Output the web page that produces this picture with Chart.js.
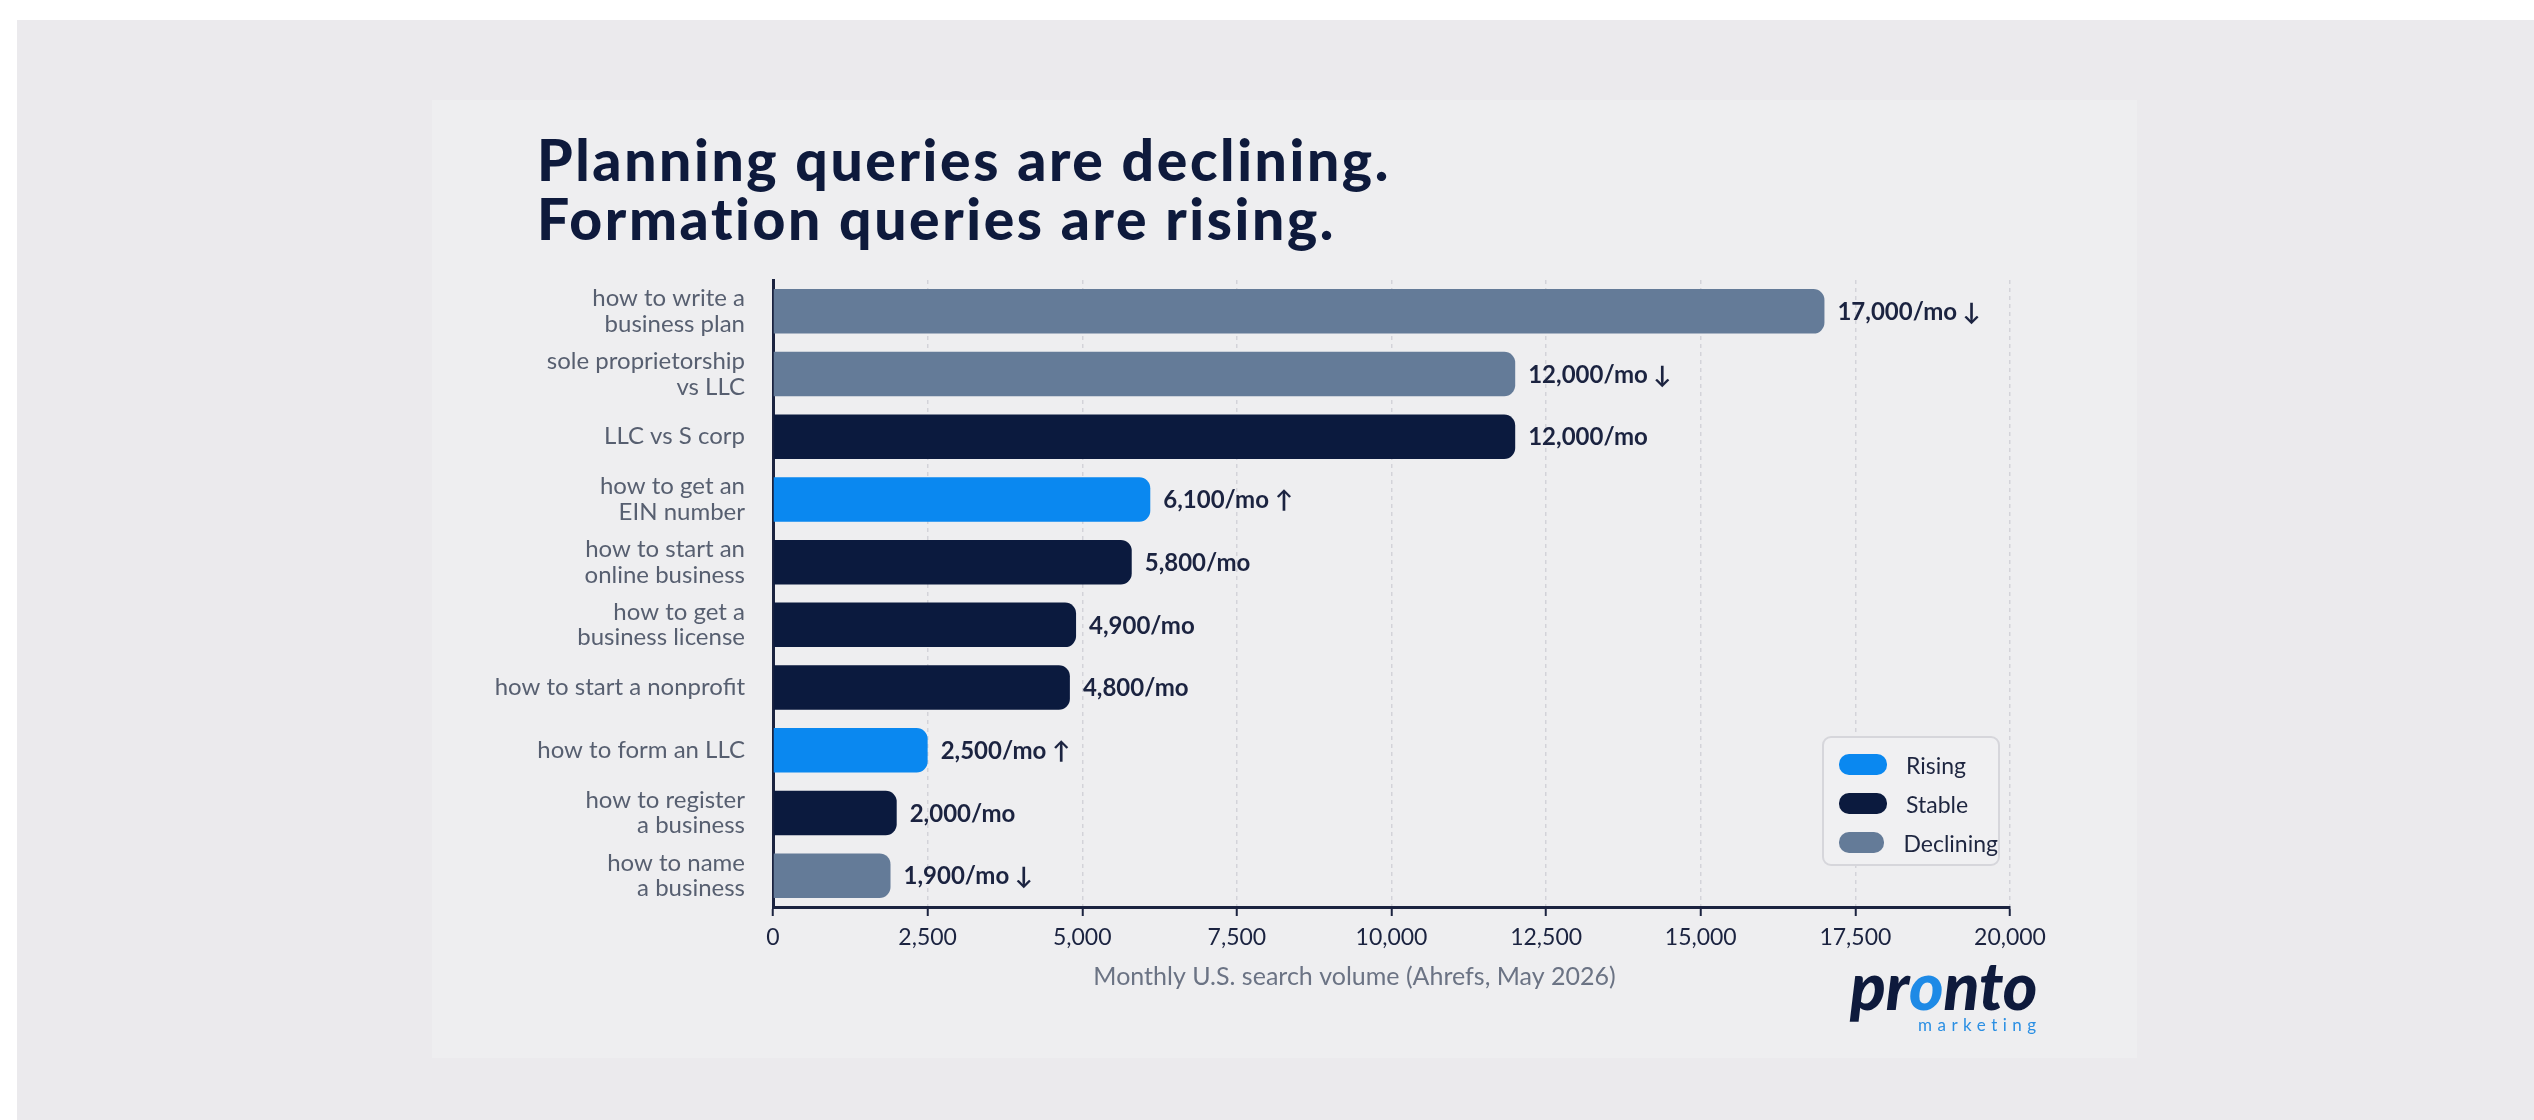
<!DOCTYPE html>
<html>
<head>
<meta charset="utf-8">
<script src="https://cdn.jsdelivr.net/npm/chart.js@4.4.1/dist/chart.umd.min.js"></script>
<style>
  body { margin: 0; background: #ffffff; width: 2534px; height: 1120px; overflow: hidden; font-family: Lato, "Open Sans", sans-serif; }
  .backdrop { position: absolute; left: 17px; top: 20px; right: 0; bottom: 0; background: #ebeaed; }
  .panel { position: absolute; left: 432px; top: 100px; width: 1705px; height: 958px; background: #eeeef0; }
  .title { position: absolute; left: 537px; top: 130px; font-size: 57px; line-height: 59px; font-weight: 900; color: #0e1a3c; letter-spacing: 2.6px; }
  .chart-box { position: absolute; left: 430px; top: 260px; width: 1710px; height: 740px; }
  .legend { position: absolute; left: 1822px; top: 736px; width: 178px; height: 130px; border: 2px solid #d6d6db; border-radius: 9px; background: #f0f0f2; box-sizing: border-box; padding-top: 7px; }
  .legend-row { display: flex; align-items: center; height: 39px; padding-left: 15px; }
  .legend-swatch { width: 48px; height: 21px; border-radius: 10px; margin-right: 19px; }
  .legend-text { font-size: 23px; color: #1e2640; }
  .logo { position: absolute; left: 1850px; top: 954px; }
  .logo .word { font-size: 66px; font-weight: 900; font-style: italic; color: #0e1a3c; letter-spacing: 0px; line-height: 62px; }
  .logo .word span { color: #1e8ae6; }
  .logo .sub { position: absolute; left: 68px; top: 60px; font-size: 17px; letter-spacing: 5.5px; color: #2b8fe3; white-space: nowrap; }
</style>
</head>
<body>
<div class="backdrop"></div>
<div class="panel"></div>
<div class="title">Planning queries are declining.<br>Formation queries are rising.</div>
<div class="chart-box"><canvas id="chart"></canvas></div>
<div class="legend" id="legend"></div>
<div class="logo"><div class="word">pr<span>o</span>nto</div><div class="sub">marketing</div></div>

<script>
// Chart data
const queries = [
    ['how to write a', 'business plan'],
    ['sole proprietorship', 'vs LLC'],
    'LLC vs S corp',
    ['how to get an', 'EIN number'],
    ['how to start an', 'online business'],
    ['how to get a', 'business license'],
    'how to start a nonprofit',
    'how to form an LLC',
    ['how to register', 'a business'],
    ['how to name', 'a business']
];
const volumes = [17000, 12000, 12000, 6100, 5800, 4900, 4800, 2500, 2000, 1900];
const trends = ['Declining', 'Declining', 'Stable', 'Rising', 'Stable', 'Stable', 'Stable', 'Rising', 'Stable', 'Declining'];
const trendNames = ['Rising', 'Stable', 'Declining'];
const trendColors = ['#0a88f0', '#0b1a3e', '#647b98'];
const trendArrows = ['↑', '', '↓'];
const axisMax = 20000;
const axisStep = 2500;
const axisTitle = 'Monthly U.S. search volume (Ahrefs, May 2026)';

const navy = '#1b2340';

function colorFor(trend) {
    return trendColors[trendNames.indexOf(trend)];
}

function labelFor(i) {
    const arrow = trendArrows[trendNames.indexOf(trends[i])];
    return volumes[i].toLocaleString('en-US') + '/mo' + (arrow ? ' ' + arrow : '');
}

// Value labels at the end of each bar, plus the axis title (a bit left of centre, as in the original)
const valueLabels = {
    id: 'valueLabels',
    afterDatasetsDraw(chart) {
        const ctx = chart.ctx;
        const meta = chart.getDatasetMeta(0);
        const area = chart.chartArea;
        ctx.save();
        ctx.font = 'bold 24px Lato, "Open Sans", sans-serif';
        ctx.fillStyle = navy;
        ctx.textAlign = 'left';
        ctx.textBaseline = 'middle';
        meta.data.forEach((bar, i) => {
            ctx.fillText(labelFor(i), bar.x + 13, bar.y + 1);
        });

        ctx.font = '25px Lato, "Open Sans", sans-serif';
        ctx.fillStyle = '#6b7384';
        ctx.textAlign = 'center';
        ctx.fillText(axisTitle, (area.left + area.right) / 2 - 37, area.bottom + 70);
        ctx.restore();
    }
};

const ctx = document.getElementById('chart').getContext('2d');
new Chart(ctx, {
    type: 'bar',
    data: {
        labels: queries,
        datasets: [{
            data: volumes,
            backgroundColor: trends.map(colorFor),
            borderRadius: 11,
            borderSkipped: 'start',
            barPercentage: 0.71,
            categoryPercentage: 1
        }]
    },
    options: {
        indexAxis: 'y',
        responsive: true,
        maintainAspectRatio: false,
        animation: false,
        layout: {
            padding: { top: 20, right: 130, left: 0, bottom: 0 }
        },
        plugins: {
            legend: { display: false },
            tooltip: { enabled: false }
        },
        scales: {
            x: {
                min: 0,
                max: axisMax,
                afterFit: (scale) => { scale.height = 93; },
                ticks: {
                    stepSize: axisStep,
                    color: navy,
                    padding: 8,
                    font: { family: 'Lato', size: 23 },
                    callback: (v) => v.toLocaleString('en-US')
                },
                grid: {
                    color: (c) => c.tick && c.tick.value === 0 ? 'rgba(0,0,0,0)' : '#d3d3d9',
                    lineWidth: 1.5,
                    drawTicks: true,
                    tickLength: 9,
                    tickColor: navy,
                    tickWidth: 2
                },
                border: { display: true, color: navy, width: 3, dash: [4, 4] }
            },
            y: {
                afterFit: (scale) => {
                    scale.width = 343;
                    scale.paddingTop = 0;
                    scale.paddingBottom = 0;
                },
                ticks: {
                    color: '#575f70',
                    padding: 28,
                    font: { family: 'Lato', size: 24, lineHeight: 1.06 }
                },
                grid: { display: false, drawTicks: false },
                border: { display: true, color: navy, width: 3 }
            }
        }
    },
    plugins: [valueLabels]
});

// Legend box built from the trend arrays
const legend = document.getElementById('legend');
trendNames.forEach((name, i) => {
    legend.insertAdjacentHTML('beforeend', `
        <div class="legend-row">
            <div class="legend-swatch" style="background:${trendColors[i]}"></div>
            <div class="legend-text">${name}</div>
        </div>
    `);
});
</script>
</body>
</html>
